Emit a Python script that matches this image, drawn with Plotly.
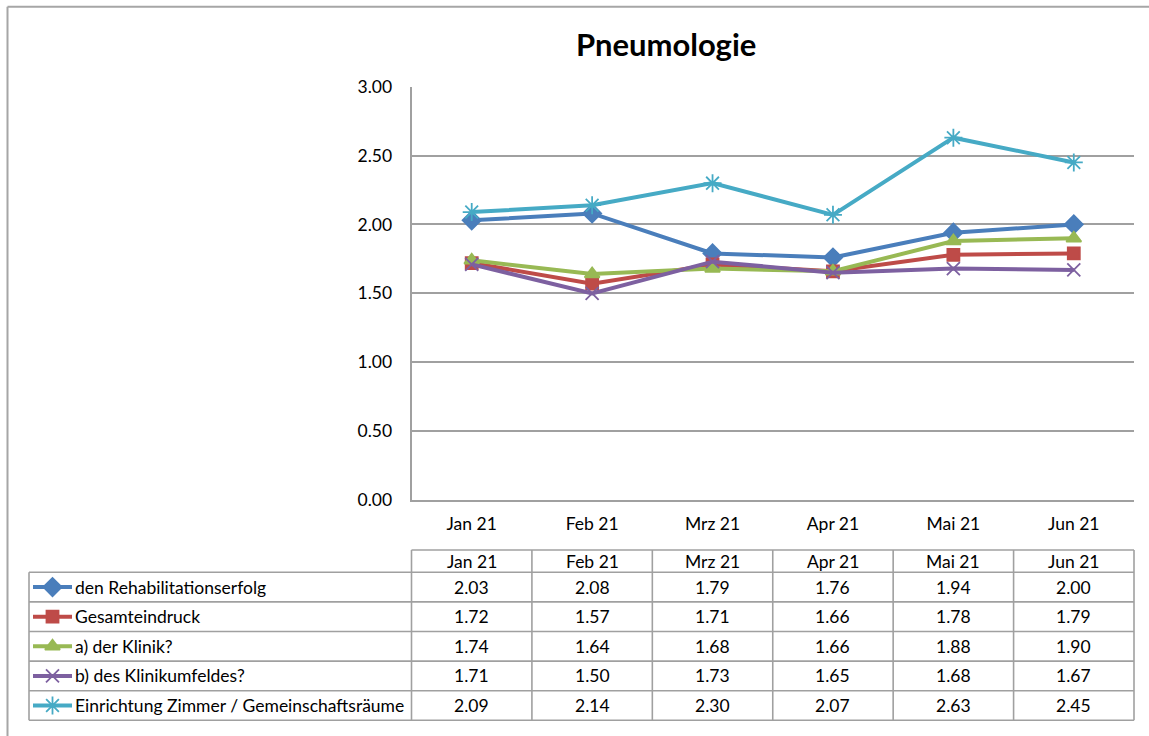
import plotly.graph_objects as go

# ---- data ----
months = ["Jan 21", "Feb 21", "Mrz 21", "Apr 21", "Mai 21", "Jun 21"]
series_names = [
    "den Rehabilitationserfolg",
    "Gesamteindruck",
    "a) der Klinik?",
    "b) des Klinikumfeldes?",
    "Einrichtung Zimmer / Gemeinschaftsräume",
]
reha = [2.03, 2.08, 1.79, 1.76, 1.94, 2.00]
gesamt = [1.72, 1.57, 1.71, 1.66, 1.78, 1.79]
klinik = [1.74, 1.64, 1.68, 1.66, 1.88, 1.90]
umfeld = [1.71, 1.50, 1.73, 1.65, 1.68, 1.67]
zimmer = [2.09, 2.14, 2.30, 2.07, 2.63, 2.45]
y_ticks = [0, 0.5, 1.0, 1.5, 2.0, 2.5, 3.0]
title = "Pneumologie"

series_values = [reha, gesamt, klinik, umfeld, zimmer]

# ---- styles ----
colors = ["#4A7EBB", "#BE4B48", "#98B954", "#7D60A0", "#46AAC5"]
symbols = ["diamond", "square", "triangle-up", "x-thin-open", "asterisk-open"]
msizes = [14, 12, 13, 13, 15]
FONT = "Lato"
GRID = "#A0A0A0"
LW = 4

W, H = 1149, 736
PL, PR, PT, PB = 411.5, 1134.0, 86.7, 500.0  # plot area pixels


def px(x):
    return x / W


def py(y):
    return 1 - y / H


fig = go.Figure()

for name, vals, c, s, ms in zip(series_names, series_values, colors, symbols, msizes):
    fig.add_trace(go.Scatter(
        x=list(range(len(months))), y=vals, name=name, mode="lines+markers",
        line=dict(color=c, width=LW),
        marker=dict(symbol=s, size=ms, color=c, line=dict(color=c, width=1.8)),
        xaxis="x", yaxis="y", showlegend=False, hoverinfo="skip",
    ))

# ---- table geometry ----
col_w = (PR - PL) / len(months)
col_x = [PL + col_w * i for i in range(len(months) + 1)]
head_top, head_bot = 550.0, 572.3
row_h = 29.6
row_y = [head_bot + row_h * i for i in range(len(series_names) + 1)]
leg_left = 29.0

shapes = []
line_style = dict(color=GRID, width=1.6)
border = dict(color="#A6A6A6", width=2)
# outer chart border (top and left visible)
shapes.append(dict(type="line", xref="paper", yref="paper", x0=px(7.5), x1=px(1160),
                   y0=py(6.8), y1=py(6.8), line=border))
shapes.append(dict(type="line", xref="paper", yref="paper", x0=px(7.5), x1=px(7.5),
                   y0=py(6.8), y1=py(750), line=border))
# header row lines
shapes.append(dict(type="line", xref="paper", yref="paper", x0=px(PL), x1=px(PR),
                   y0=py(head_top), y1=py(head_top), line=line_style))
for yy in row_y:
    shapes.append(dict(type="line", xref="paper", yref="paper", x0=px(leg_left), x1=px(PR),
                       y0=py(yy), y1=py(yy), line=line_style))
for xx in col_x:
    shapes.append(dict(type="line", xref="paper", yref="paper", x0=px(xx), x1=px(xx),
                       y0=py(head_top), y1=py(row_y[-1]), line=line_style))
shapes.append(dict(type="line", xref="paper", yref="paper", x0=px(leg_left), x1=px(leg_left),
                   y0=py(row_y[0]), y1=py(row_y[-1]), line=line_style))

annotations = []
TF = dict(family=FONT, size=17.5, color="#000000")
for i, m in enumerate(months):
    cx = (col_x[i] + col_x[i + 1]) / 2
    annotations.append(dict(x=px(cx), y=py((head_top + head_bot) / 2), xref="paper", yref="paper",
                            text=m, showarrow=False, font=TF, xanchor="center", yanchor="middle"))
    for r, vals in enumerate(series_values):
        cy = (row_y[r] + row_y[r + 1]) / 2
        annotations.append(dict(x=px(cx), y=py(cy), xref="paper", yref="paper",
                                text=f"{vals[i]:.2f}", showarrow=False, font=TF,
                                xanchor="center", yanchor="middle"))

# legend keys in table (overlay pixel axes)
key_x0, key_x1 = 33.0, 72.0
for r, (name, c, s, ms) in enumerate(zip(series_names, colors, symbols, msizes)):
    cy = (row_y[r] + row_y[r + 1]) / 2
    fig.add_trace(go.Scatter(x=[key_x0, key_x1], y=[cy, cy], mode="lines",
                             line=dict(color=c, width=LW), xaxis="x2", yaxis="y2",
                             showlegend=False, hoverinfo="skip"))
    fig.add_trace(go.Scatter(x=[(key_x0 + key_x1) / 2], y=[cy], mode="markers",
                             marker=dict(symbol=s, size=ms, color=c, line=dict(color=c, width=1.8)),
                             xaxis="x2", yaxis="y2", showlegend=False, hoverinfo="skip"))
    annotations.append(dict(x=px(key_x1 + 1), y=py(cy), xref="paper", yref="paper", text=name,
                            showarrow=False, font=TF, xanchor="left", yanchor="middle"))

# title
annotations.append(dict(x=px(666), y=py(44), xref="paper", yref="paper", text=f"<b>{title}</b>",
                        showarrow=False, font=dict(family=FONT, size=31, color="#000000"),
                        xanchor="center", yanchor="middle"))

hidden_axis = dict(domain=[0, 1], visible=False, showline=False, showgrid=False, zeroline=False,
                   showticklabels=False, ticks="", fixedrange=True, automargin=False)

fig.update_layout(
    width=W, height=H,
    margin=dict(l=0, r=0, t=0, b=0, pad=0),
    paper_bgcolor="white", plot_bgcolor="rgba(0,0,0,0)",
    showlegend=False,
    font=dict(family=FONT, size=17.5, color="#000000"),
    xaxis=dict(domain=[px(PL), px(PR)], range=[-0.5, len(months) - 0.5],
               tickvals=list(range(len(months))), ticktext=months,
               showgrid=False, zeroline=False, showline=True, linecolor=GRID, linewidth=1.6,
               ticks="", ticklabelstandoff=7, tickfont=TF, fixedrange=True, automargin=False),
    yaxis=dict(domain=[py(PB), py(PT)], range=[0, 3], tickvals=y_ticks, tickformat=".2f",
               showgrid=True, gridcolor=GRID, gridwidth=1.6, zeroline=False,
               showline=True, linecolor=GRID, linewidth=1.6, ticks="",
               ticklabelstandoff=14, tickfont=TF, fixedrange=True, automargin=False),
    xaxis2=dict(hidden_axis, range=[0, W], anchor="y2"),
    yaxis2=dict(hidden_axis, range=[H, 0], anchor="x2"),
    shapes=shapes,
    annotations=annotations,
)

fig.write_html("out.html", config={"displayModeBar": False},
               post_script="document.body.style.margin='0';document.body.style.overflow='hidden';")
